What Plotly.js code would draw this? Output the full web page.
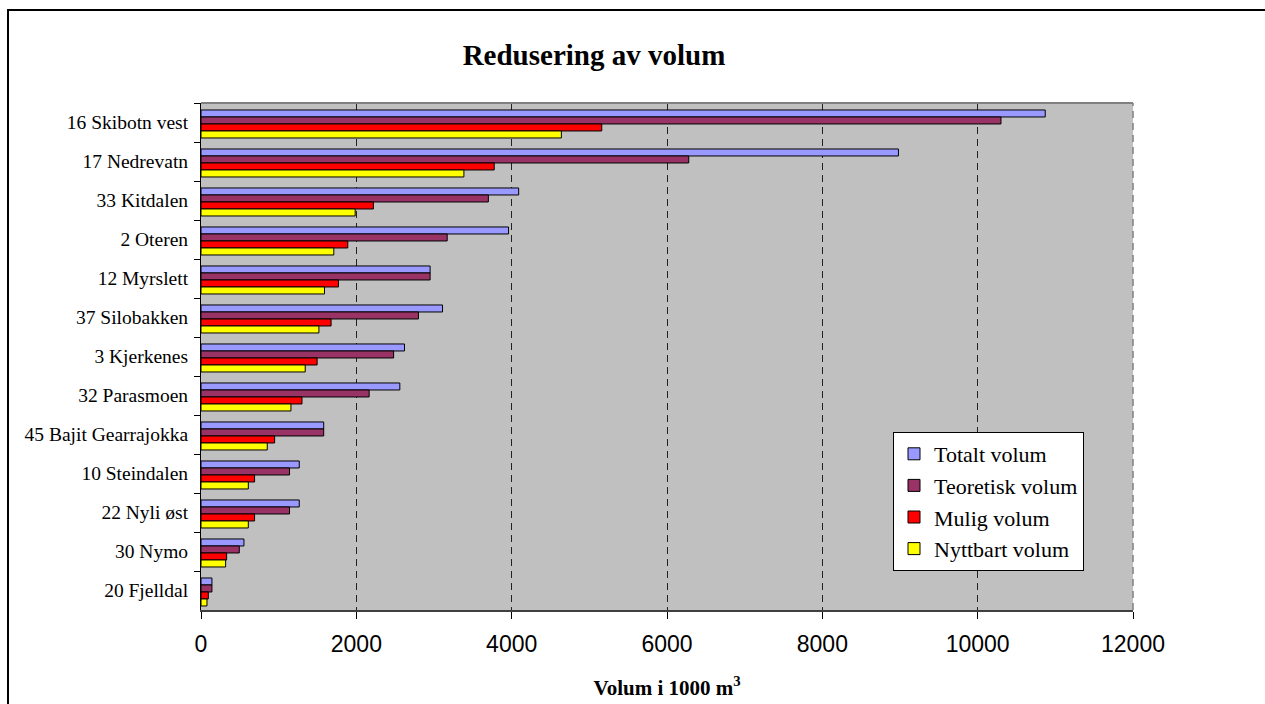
<!DOCTYPE html>
<html>
<head>
<meta charset="utf-8">
<script src="https://cdn.plot.ly/plotly-3.0.1.min.js"></script>
<style>
  html, body { margin: 0; padding: 0; width: 1265px; height: 704px; overflow: hidden; background: #fff; }
  #frame { position: absolute; left: 7px; top: 9px; width: 1400px; height: 900px; border: 2px solid #000; box-sizing: border-box; }
  #chart { position: absolute; left: 0; top: 0; width: 1265px; height: 704px; }
</style>
</head>
<body>
<div id="frame"></div>
<div id="chart"></div>
<script>
const categories = [
  "16 Skibotn vest", "17 Nedrevatn", "33 Kitdalen", "2 Oteren", "12 Myrslett",
  "37 Silobakken", "3 Kjerkenes", "32 Parasmoen", "45 Bajit Gearrajokka",
  "10 Steindalen", "22 Nyli øst", "30 Nymo", "20 Fjelldal"
];
const seriesNames = ["Totalt volum", "Teoretisk volum", "Mulig volum", "Nyttbart volum"];
const totalt    = [10870, 8980, 4090, 3960, 2950, 3110, 2620, 2560, 1580, 1265, 1265, 553, 141];
const teoretisk = [10300, 6280, 3700, 3170, 2950, 2800, 2480, 2165, 1580, 1140, 1140, 493, 141];
const mulig     = [5160, 3775, 2220, 1890, 1770, 1675, 1495, 1300, 948, 690, 690, 330, 94];
const nyttbart  = [4640, 3385, 1985, 1710, 1590, 1518, 1342, 1158, 853, 609, 609, 317, 77];
const xTicks = [0, 2000, 4000, 6000, 8000, 10000, 12000];

const colors = ["#9999FF", "#993366", "#FF0000", "#FFFF00"];
const values = [totalt, teoretisk, mulig, nyttbart];
const barW = 0.1795;
const offsets = [-0.321, -0.1415, 0.038, 0.2175];

const traces = values.map((v, i) => ({
  type: "bar",
  orientation: "h",
  name: seriesNames[i],
  y: categories,
  x: v,
  width: barW,
  offset: offsets[i],
  marker: { color: colors[i], line: { color: "#000", width: 1 } },
  legendgroup: "g" + i,
  hoverinfo: "x+name"
}));

const layout = {
  width: 1265,
  height: 704,
  margin: { l: 201, r: 132, t: 103, b: 94, pad: 0 },
  paper_bgcolor: "rgba(0,0,0,0)",
  plot_bgcolor: "#C0C0C0",
  barmode: "overlay",
  showlegend: true,
  title: {
    text: "<b>Redusering av volum</b>",
    font: { family: "Liberation Serif, Times New Roman, serif", size: 29, color: "#000" },
    x: 594 / 1265, xref: "container", xanchor: "center",
    y: 1 - 55 / 704, yref: "container", yanchor: "middle"
  },
  xaxis: {
    range: [0, 12000],
    tickvals: xTicks,
    ticktext: xTicks.map(String),
    ticks: "outside",
    ticklen: 7,
    tickcolor: "#000",
    tickwidth: 1,
    ticklabelstandoff: 5,
    tickfont: { family: "Liberation Sans, Arial, sans-serif", size: 23, color: "#000" },
    showgrid: true,
    gridcolor: "#222",
    gridwidth: 1,
    griddash: "7px,5px",
    showline: true,
    linecolor: "#404040",
    linewidth: 2,
    zeroline: false,
    automargin: false,
    fixedrange: true,
    title: {
      text: "<b>Volum i 1000 m<sup>3</sup></b>",
      font: { family: "Liberation Serif, Times New Roman, serif", size: 21, color: "#000" },
      standoff: 25
    }
  },
  yaxis: {
    type: "category",
    autorange: "reversed",
    ticks: "outside",
    tickson: "boundaries",
    ticklen: 6,
    tickcolor: "#000",
    ticklabelstandoff: 8,
    tickfont: { family: "Liberation Serif, Times New Roman, serif", size: 19.5, color: "#000" },
    showgrid: false,
    showline: true,
    linecolor: "#000",
    linewidth: 1,
    zeroline: false,
    automargin: false,
    fixedrange: true
  },
  legend: {
    x: (893 - 201) / 932, xanchor: "left",
    y: (610 - 432) / 507, yanchor: "top",
    bgcolor: "#FFFFFF",
    bordercolor: "#000",
    borderwidth: 1,
    traceorder: "normal",
    font: { family: "Liberation Serif, Times New Roman, serif", size: 22, color: "#000" }
  },
  shapes: [
    { type: "line", xref: "paper", yref: "paper", x0: 0, x1: 1, y0: 1, y1: 1, line: { color: "#808080", width: 2 } },
    { type: "line", xref: "paper", yref: "paper", x0: 1, x1: 1, y0: 0, y1: 1, line: { color: "#808080", width: 1.5, dash: "7px,5px" } }
  ]
};

Plotly.newPlot("chart", traces, layout, { displayModeBar: false, staticPlot: true });
</script>
</body>
</html>
